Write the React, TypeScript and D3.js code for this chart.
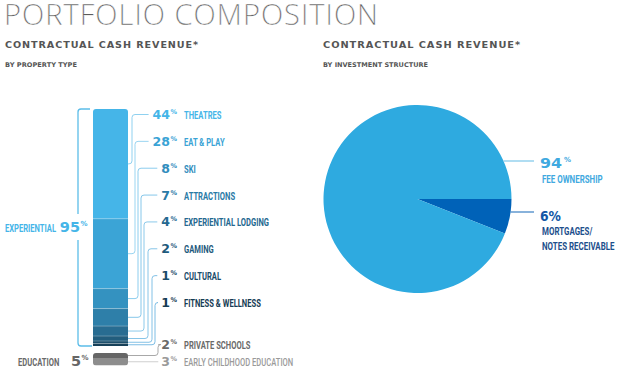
import React from 'react';
import * as d3 from 'd3';

// left chart: contractual cash revenue by property type
const propertyTypes = ['THEATRES', 'EAT & PLAY', 'SKI', 'ATTRACTIONS', 'EXPERIENTIAL LODGING', 'GAMING', 'CULTURAL', 'FITNESS & WELLNESS'];
const propertyShares = [44, 28, 8, 7, 4, 2, 1, 1];
const educationTypes = ['PRIVATE SCHOOLS', 'EARLY CHILDHOOD EDUCATION'];
const educationShares = [2, 3];
const groupNames = ['EXPERIENTIAL', 'EDUCATION'];
const groupShares = [95, 5];

// right chart: by investment structure
const structureNames = ['FEE OWNERSHIP', 'MORTGAGES/|NOTES RECEIVABLE'];
const structureShares = [94, 6];

const propColors = ['#45b5e8', '#3ba4d6', '#3492c0', '#2e7fa9', '#286c91', '#225d7d', '#1d4f6b', '#174159'];
const propText = ['#45b5e8', '#3aa3d5', '#318dbd', '#2a7aa6', '#246890', '#1e5a7d', '#1a4c6a', '#153c54'];
const propLines = ['#8fd1f0', '#9ad5f1', '#8ccdee', '#86c7ea', '#8cc9ea', '#86c5e8', '#82c1e6', '#7dbde4'];
const eduColors = ['#666666', '#8d8d8d'];
const eduText = ['#6a6a6a', '#9a9a9a'];
const eduLines = ['#a8a8a8', '#cfcfcf'];

const numFont = '"DejaVu Sans", sans-serif';
const narrow = 'Roboto, sans-serif';
const headFont = '"DejaVu Sans", sans-serif';

// condensed label: Roboto squeezed horizontally
const Narrow = ({ x, y, size, fill, weight = 700, sx = 0.76, children }: any) => (
  <text transform={`translate(${x},${y}) scale(${sx},1)`} fontFamily={narrow} fontWeight={weight} fontSize={size} fill={fill}>
    {children}
  </text>
);

const App = () => {
  const barX = 93;
  const barW = 35;
  const barR = barX + barW;

  const yExp = d3.scaleLinear().domain([0, groupShares[0]]).range([109, 346]);
  const yEdu = d3.scaleLinear().domain([0, groupShares[1]]).range([353, 365.5]);
  const expEnds = Array.from(d3.cumsum(propertyShares));
  const eduEnds = Array.from(d3.cumsum(educationShares));

  const rowY = d3.scaleLinear().domain([0, 7]).range([119, 307]);
  const eduRowY = [349, 366];
  const numRight = 170;
  const verticals = [132, 135, 138, 141, 144, 148, 152, 155];
  const digitW = 8.7;
  const r = 3;

  const leader = (xs: number, yl: number, xv: number, ym: number) =>
    `M${xs},${yl}H${xv + r}Q${xv},${yl} ${xv},${yl + r}V${ym - r}Q${xv},${ym} ${xv - r},${ym}H${barR}`;

  // pie
  const cx = 417.5;
  const cy = 199;
  const radius = 94;
  const pieData = d3
    .pie<number>()
    .sort(null)
    .value((i) => structureShares[i])
    .startAngle(Math.PI / 2)
    .endAngle(Math.PI / 2 + 2 * Math.PI)([1, 0]);
  const arc = d3.arc<d3.PieArcDatum<number>>().innerRadius(0).outerRadius(radius);
  const pieColors = ['#2eaae0', '#0062b8'];
  const pieLineY = [161, 212];
  const pieLineColors = ['#7cc6ea', '#3a7fc4'];
  const edgeX = (y: number) => cx + Math.sqrt(radius * radius - (y - cy) * (y - cy));

  const expMid = 228;

  return (
    <svg width={624} height={373} style={{ position: 'absolute', left: 0, top: 0, background: '#fff' }}>
      <defs>
        <clipPath id="expClip">
          <rect x={barX} y={yExp(0)} width={barW} height={yExp(groupShares[0]) - yExp(0) + 4} rx={3} />
        </clipPath>
        <clipPath id="eduClip">
          <rect x={barX} y={yEdu(0)} width={barW} height={yEdu(groupShares[1]) - yEdu(0)} rx={3} />
        </clipPath>
      </defs>

      {/* titles */}
      <text x={4} y={25} fontFamily='"Open Sans", sans-serif' fontWeight={300} fontSize={29} fill="#5b5b5b" stroke="#fff" strokeWidth={0.4} textLength={374} lengthAdjust="spacing">
        PORTFOLIO COMPOSITION
      </text>
      <text x={5} y={48} fontFamily={headFont} fontWeight={700} fontSize={8.4} letterSpacing={0.8} fill="#555" textLength={194} lengthAdjust="spacingAndGlyphs">
        CONTRACTUAL CASH REVENUE*
      </text>
      <text x={5} y={67} fontFamily={headFont} fontWeight={700} fontSize={6.4} fill="#555" textLength={72} lengthAdjust="spacingAndGlyphs">
        BY PROPERTY TYPE
      </text>
      <text x={323} y={48} fontFamily={headFont} fontWeight={700} fontSize={8.4} letterSpacing={0.8} fill="#555" textLength={198} lengthAdjust="spacingAndGlyphs">
        CONTRACTUAL CASH REVENUE*
      </text>
      <text x={323} y={67} fontFamily={headFont} fontWeight={700} fontSize={6.4} fill="#555" textLength={105} lengthAdjust="spacingAndGlyphs">
        BY INVESTMENT STRUCTURE
      </text>

      {/* experiential bar */}
      <g clipPath="url(#expClip)">
        {propertyShares.map((v, i) => (
          <rect key={i} x={barX} y={yExp(expEnds[i] - v)} width={barW} height={yExp(expEnds[i]) - yExp(expEnds[i] - v)} fill={propColors[i]} />
        ))}
      </g>
      {expEnds.slice(0, -1).map((e, i) => (
        <line key={i} x1={barX} x2={barR} y1={yExp(e)} y2={yExp(e)} stroke="#fff" strokeOpacity={0.35} strokeWidth={0.8} />
      ))}
      <g clipPath="url(#eduClip)">
        {educationShares.map((v, i) => (
          <rect key={i} x={barX} y={yEdu(eduEnds[i] - v)} width={barW} height={yEdu(eduEnds[i]) - yEdu(eduEnds[i] - v)} fill={eduColors[i]} />
        ))}
      </g>

      {/* experiential leaders + labels */}
      {propertyTypes.map((name, i) => {
        const yb = rowY(i);
        const yl = yb - 4.5;
        const v = propertyShares[i];
        const digits = String(v).length;
        const xs = numRight - digits * digitW - 4;
        const ym = (yExp(expEnds[i] - v) + yExp(expEnds[i])) / 2;
        return (
          <g key={name}>
            <path d={leader(xs, yl, verticals[i], ym)} fill="none" stroke={propLines[i]} strokeWidth={1} />
            <text x={numRight} y={yb} textAnchor="end" fontFamily={numFont} fontWeight={700} fontSize={12.5} fill={propText[i]}>
              {v}
            </text>
            <text x={numRight + 0.5} y={yb - 5} fontFamily={numFont} fontWeight={700} fontSize={6.5} fill={propText[i]}>
              %
            </text>
            <Narrow x={184} y={yb} size={10} fill={propText[i]}>
              {name}
            </Narrow>
          </g>
        );
      })}

      {/* education leaders + labels */}
      {educationTypes.map((name, i) => {
        const yb = eduRowY[i];
        const yl = yb - 4.5;
        const v = educationShares[i];
        const ym = (yEdu(eduEnds[i] - v) + yEdu(eduEnds[i])) / 2;
        const xs = numRight - String(v).length * digitW - 3;
        const d = i === 0 ? leader(xs, yl, 158, ym) : `M${xs},${ym}H${barR}`;
        return (
          <g key={name}>
            <path d={d} fill="none" stroke={eduLines[i]} strokeWidth={1} />
            <text x={numRight} y={yb} textAnchor="end" fontFamily={numFont} fontWeight={700} fontSize={12.5} fill={eduText[i]}>
              {v}
            </text>
            <text x={numRight + 0.5} y={yb - 5} fontFamily={numFont} fontWeight={700} fontSize={6.5} fill={eduText[i]}>
              %
            </text>
            <Narrow x={184} y={yb} size={10} weight={i === 0 ? 700 : 500} fill={eduText[i]}>
              {name}
            </Narrow>
          </g>
        );
      })}

      {/* experiential bracket */}
      <path
        d={`M${barX - 3},${yExp(0)}H${81}Q78,${yExp(0)} 78,${yExp(0) + 3}V${expMid - 14}M78,${expMid + 12}V${yExp(groupShares[0]) - 3}Q78,${yExp(groupShares[0])} 81,${yExp(groupShares[0])}H${barX - 1}`}
        fill="none"
        stroke="#5cbde9"
        strokeWidth={1.3}
      />
      <Narrow x={5} y={expMid + 4} size={10} fill="#45b5e8">
        {groupNames[0]}
      </Narrow>
      <text x={80} y={expMid + 4} textAnchor="end" fontFamily={numFont} fontWeight={700} fontSize={14.5} fill="#45b5e8">
        {groupShares[0]}
      </text>
      <text x={80.5} y={expMid - 2} fontFamily={numFont} fontWeight={700} fontSize={7} fill="#45b5e8">
        %
      </text>
      <Narrow x={18} y={366} size={10} fill="#6a6a6a">
        {groupNames[1]}
      </Narrow>
      <text x={81} y={366} textAnchor="end" fontFamily={numFont} fontWeight={700} fontSize={14.5} fill="#666">
        {groupShares[1]}
      </text>
      <text x={81.5} y={360} fontFamily={numFont} fontWeight={700} fontSize={7} fill="#666">
        %
      </text>

      {/* pie */}
      <g transform={`translate(${cx},${cy})`}>
        {pieData.map((d) => (
          <path key={d.data} d={arc(d) || ''} fill={pieColors[d.data]} />
        ))}
      </g>
      {structureNames.map((name, i) => {
        const ly = pieLineY[i];
        const lines = name.split('|');
        const col = i === 0 ? '#3fa9e0' : '#1257a6';
        return (
          <g key={name}>
            <line x1={edgeX(ly)} x2={534} y1={ly} y2={ly} stroke={pieLineColors[i]} strokeWidth={1.2} />
            {i === 0 ? (
              <>
                <text x={540} y={168} fontFamily={numFont} fontWeight={700} fontSize={14.5} fill={col} textLength={22} lengthAdjust="spacingAndGlyphs">
                  {structureShares[i]}
                </text>
                <text x={564} y={162} fontFamily={numFont} fontWeight={700} fontSize={7} fill={col}>
                  %
                </text>
              </>
            ) : (
              <text x={540} y={221} fontFamily={numFont} fontWeight={700} fontSize={14.5} fill={col} textLength={21} lengthAdjust="spacingAndGlyphs">
                {structureShares[i]}%
              </text>
            )}
            {lines.map((t, j) => (
              <Narrow key={t} x={542} y={(i === 0 ? 183 : 235) + j * 15} size={11} sx={0.72} fill={i === 0 ? '#3fa9e0' : '#1d4f8c'}>
                {t}
              </Narrow>
            ))}
          </g>
        );
      })}
    </svg>
  );
};

export default App;
